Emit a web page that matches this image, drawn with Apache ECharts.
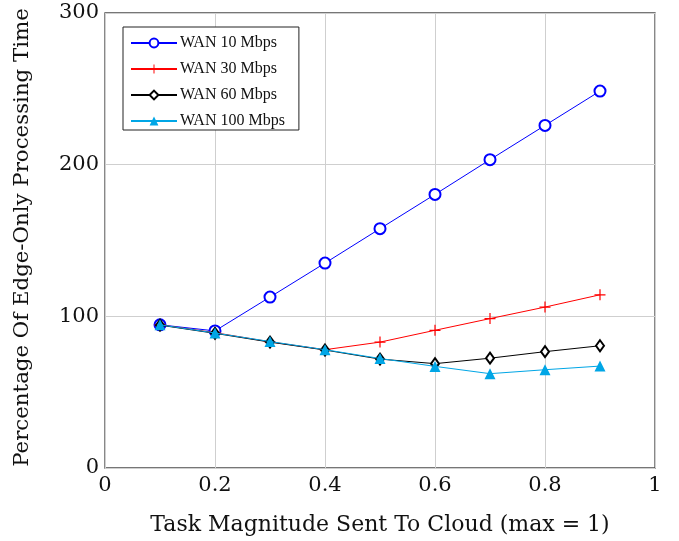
<!DOCTYPE html>
<html>
<head>
<meta charset="utf-8">
<script src="https://cdn.jsdelivr.net/npm/echarts@6/dist/echarts.min.js"></script>
<style>
html,body{margin:0;padding:0;background:#fff;}
#chart{width:679px;height:541px;}
</style>
</head>
<body>
<div id="chart"></div>
<script>
var xValues = [0.1, 0.2, 0.3, 0.4, 0.5, 0.6, 0.7, 0.8, 0.9];
var wan10 = [94.4, 90.4, 112.7, 135.1, 157.8, 180.4, 203.3, 225.9, 248.5];
var wan30 = [94.4, 89.2, 83.2, 78.0, 83.0, 90.8, 98.5, 106.1, 114.2];
var wan60 = [94.2, 88.8, 83.0, 77.8, 71.8, 68.8, 72.4, 76.7, 80.6];
var wan100 = [94.4, 89.0, 83.4, 78.0, 72.2, 67.0, 62.2, 64.8, 67.2];
var seriesNames = ['WAN 10 Mbps', 'WAN 30 Mbps', 'WAN 60 Mbps', 'WAN 100 Mbps'];
var xLabel = 'Task Magnitude Sent To Cloud (max = 1)';
var yLabel = 'Percentage Of Edge-Only Processing Time';

function pairs(vals) { return xValues.map(function (x, i) { return [x, vals[i]]; }); }

var cm = '"DejaVu Serif", "Liberation Serif", serif';
var times = '"Liberation Serif", "DejaVu Serif", serif';
var plusPath = 'path://M4.45,0h1.1v10h-1.1z M0,4.45h10v1.1h-10z';

var chart = echarts.init(document.getElementById('chart'), null, {renderer: 'canvas'});
chart.setOption({
  animation: false,
  backgroundColor: '#fff',
  grid: {left: 105, right: 24, top: 13, bottom: 73, show: true, borderColor: '#4a4a4a', borderWidth: 1.3, containLabel: false},
  xAxis: {
    type: 'value', min: 0, max: 1, interval: 0.2,
    name: xLabel, nameLocation: 'middle', nameGap: 46,
    nameTextStyle: {fontFamily: cm, fontSize: 22, color: '#111'},
    axisLine: {show: false},
    axisTick: {show: false},
    axisLabel: {fontFamily: cm, fontSize: 21, color: '#111', margin: 7},
    splitLine: {show: true, lineStyle: {color: '#cfcfcf', width: 1}}
  },
  yAxis: {
    type: 'value', min: 0, max: 300, interval: 100,
    name: yLabel, nameLocation: 'middle', nameGap: 72,
    nameTextStyle: {fontFamily: cm, fontSize: 21.3, color: '#111', padding: [0, 0, 0, 6]},
    axisLine: {show: false},
    axisTick: {show: false},
    axisLabel: {fontFamily: cm, fontSize: 21, color: '#111', margin: 6},
    splitLine: {show: true, lineStyle: {color: '#cfcfcf', width: 1}}
  },
  legend: {
    orient: 'vertical', left: 123, top: 27,
    padding: [8, 14, 1, 7],
    itemWidth: 46, itemHeight: 11, itemGap: 10,
    borderColor: '#222', borderWidth: 1, backgroundColor: '#fff',
    itemStyle: {borderWidth: 1},
    textStyle: {fontFamily: times, fontSize: 16, color: '#111', padding: [0, 0, 0, -2]},
    data: seriesNames
  },
  series: [
    {name: seriesNames[0], type: 'line', data: pairs(wan10), symbol: 'emptyCircle', symbolSize: 11,
     lineStyle: {color: '#0000ff', width: 1}, itemStyle: {color: '#0000ff', borderWidth: 0.8}, z: 2},
    {name: seriesNames[1], type: 'line', data: pairs(wan30), symbol: plusPath, symbolSize: 11,
     lineStyle: {color: '#ff0000', width: 1}, itemStyle: {color: '#ff0000'}, z: 3},
    {name: seriesNames[2], type: 'line', data: pairs(wan60), symbol: 'emptyDiamond', symbolSize: [8, 11],
     lineStyle: {color: '#000000', width: 1}, itemStyle: {color: '#000000', borderWidth: 0.8}, z: 4},
    {name: seriesNames[3], type: 'line', data: pairs(wan100), symbol: 'triangle', symbolSize: 11,
     lineStyle: {color: '#00a6e6', width: 1}, itemStyle: {color: '#00a6e6'}, z: 5}
  ]
});
</script>
</body>
</html>
